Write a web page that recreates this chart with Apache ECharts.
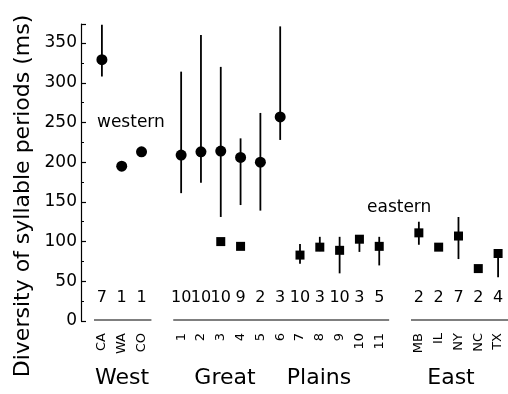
<!DOCTYPE html>
<html>
<head>
<meta charset="utf-8">
<script src="https://cdn.jsdelivr.net/npm/echarts@6/dist/echarts.min.js"></script>
<style>
  html, body { margin: 0; padding: 0; background: #fff; }
  #chart { width: 508px; height: 394px; }
</style>
</head>
<body>
<div id="chart"></div>
<script>
// categories along the x axis ('' = gap between regions)
const categories = ['CA', 'WA', 'CO', '', '1', '2', '3', '4', '5', '6', '7', '8', '9', '10', '11', '', 'MB', 'IL', 'NY', 'NC', 'TX'];
// sample sizes printed above the axis
const counts = ['7', '1', '1', '', '10', '10', '10', '9', '2', '3', '10', '3', '10', '3', '5', '', '2', '2', '7', '2', '4'];

// western type (circles)
const westernMean = [329, 195, 213, null, 209, 213, 214, 206, 200, 257, null, null, null, null, null, null, null, null, null, null, null];
const westernLow  = [308, null, null, null, 161, 174, 131, 146, 139, 228, null, null, null, null, null, null, null, null, null, null, null];
const westernHigh = [373, null, null, null, 314, 360, 320, 230, 262, 371, null, null, null, null, null, null, null, null, null, null, null];

// eastern type (squares)
const easternMean = [null, null, null, null, null, null, 100, 94, null, null, 83, 93, 89, 103, 94, null, 111, 93, 107, 66, 85];
const easternLow  = [null, null, null, null, null, null, null, null, null, null, 72, 88, 60, 87, 70, null, 96, null, 78, null, 55];
const easternHigh = [null, null, null, null, null, null, null, null, null, null, 97, 106, 106, 108, 106, null, 125, null, 131, null, 88];

// regions: [first index, last index]
const regions = [[0, 2], [4, 14], [16, 20]];

const yTicks = { min: 0, max: 374, interval: 50 };

const font = 'DejaVu Sans';

const barData = (lo, hi) => {
  const out = [];
  lo.forEach((v, i) => {
    if (v != null && hi[i] != null) out.push([i, v, hi[i]]);
  });
  return out;
};

const renderBar = (params, api) => {
  const a = api.coord([api.value(0), api.value(1)]);
  const b = api.coord([api.value(0), api.value(2)]);
  return {
    type: 'line',
    shape: { x1: a[0], y1: a[1], x2: b[0], y2: b[1] },
    style: { stroke: '#000', lineWidth: 1.8 }
  };
};

const chart = echarts.init(document.getElementById('chart'));

chart.setOption({
  backgroundColor: '#fff',
  animation: false,
  grid: { left: 92, right: 0, top: 24, bottom: 73 },
  xAxis: [
    {
      type: 'category',
      data: categories,
      boundaryGap: true,
      axisLine: { show: false },
      axisTick: { show: false },
      axisLabel: { rotate: 90, interval: 0, margin: 12, fontSize: 13, color: '#000', fontFamily: font }
    },
    {
      type: 'category',
      data: counts,
      position: 'bottom',
      boundaryGap: true,
      axisLine: { show: false },
      axisTick: { show: false },
      axisLabel: { interval: 0, margin: -31, fontSize: 16, color: '#000', fontFamily: font }
    }
  ],
  yAxis: {
    type: 'value',
    min: yTicks.min,
    max: yTicks.max,
    interval: yTicks.interval,
    offset: 11,
    axisLine: { show: true, lineStyle: { color: '#000', width: 1.2 } },
    axisTick: { show: true, inside: true, length: 5, lineStyle: { color: '#000', width: 1.2 } },
    minorTick: { show: true, splitNumber: 2, length: 3, lineStyle: { color: '#000', width: 1 } },
    splitLine: { show: false },
    axisLabel: { color: '#000', fontSize: 17, margin: 4, showMaxLabel: false, fontFamily: font }
  },
  graphic: [
    {
      type: 'text', x: 23, y: 196, rotation: Math.PI / 2,
      style: { text: 'Diversity of syllable periods (ms)', font: '22px "DejaVu Sans"', fill: '#000', align: 'center', verticalAlign: 'middle' }
    },
    { type: 'text', x: 97, y: 123, style: { text: 'western', font: '17px "DejaVu Sans"', fill: '#000', align: 'left', verticalAlign: 'middle' } },
    { type: 'text', x: 367, y: 208, style: { text: 'eastern', font: '17px "DejaVu Sans"', fill: '#000', align: 'left', verticalAlign: 'middle' } },
    { type: 'text', x: 122, y: 378, style: { text: 'West', font: '22px "DejaVu Sans"', fill: '#000', align: 'center', verticalAlign: 'middle' } },
    { type: 'text', x: 225, y: 378, style: { text: 'Great', font: '22px "DejaVu Sans"', fill: '#000', align: 'center', verticalAlign: 'middle' } },
    { type: 'text', x: 319, y: 378, style: { text: 'Plains', font: '22px "DejaVu Sans"', fill: '#000', align: 'center', verticalAlign: 'middle' } },
    { type: 'text', x: 451, y: 378, style: { text: 'East', font: '22px "DejaVu Sans"', fill: '#000', align: 'center', verticalAlign: 'middle' } }
  ],
  series: [
    {
      // broken baseline, one piece per region
      type: 'custom',
      clip: false,
      silent: true,
      data: regions,
      renderItem: (params, api) => {
        const w = api.size([1, 0])[0];
        const a = api.coord([api.value(0), 0]);
        const b = api.coord([api.value(1), 0]);
        return {
          type: 'line',
          shape: { x1: a[0] - w / 2 + 2, y1: a[1] - 1, x2: b[0] + w / 2, y2: b[1] - 1 },
          style: { stroke: '#000', lineWidth: 1.2 }
        };
      }
    },
    { type: 'custom', data: barData(westernLow, westernHigh), renderItem: renderBar, clip: false },
    { type: 'custom', data: barData(easternLow, easternHigh), renderItem: renderBar, clip: false },
    {
      type: 'scatter',
      data: westernMean,
      symbol: 'circle',
      symbolSize: 11,
      itemStyle: { color: '#000', opacity: 1 }
    },
    {
      type: 'scatter',
      data: easternMean,
      symbol: 'rect',
      symbolSize: 9,
      itemStyle: { color: '#000', opacity: 1 }
    }
  ]
});
</script>
</body>
</html>
